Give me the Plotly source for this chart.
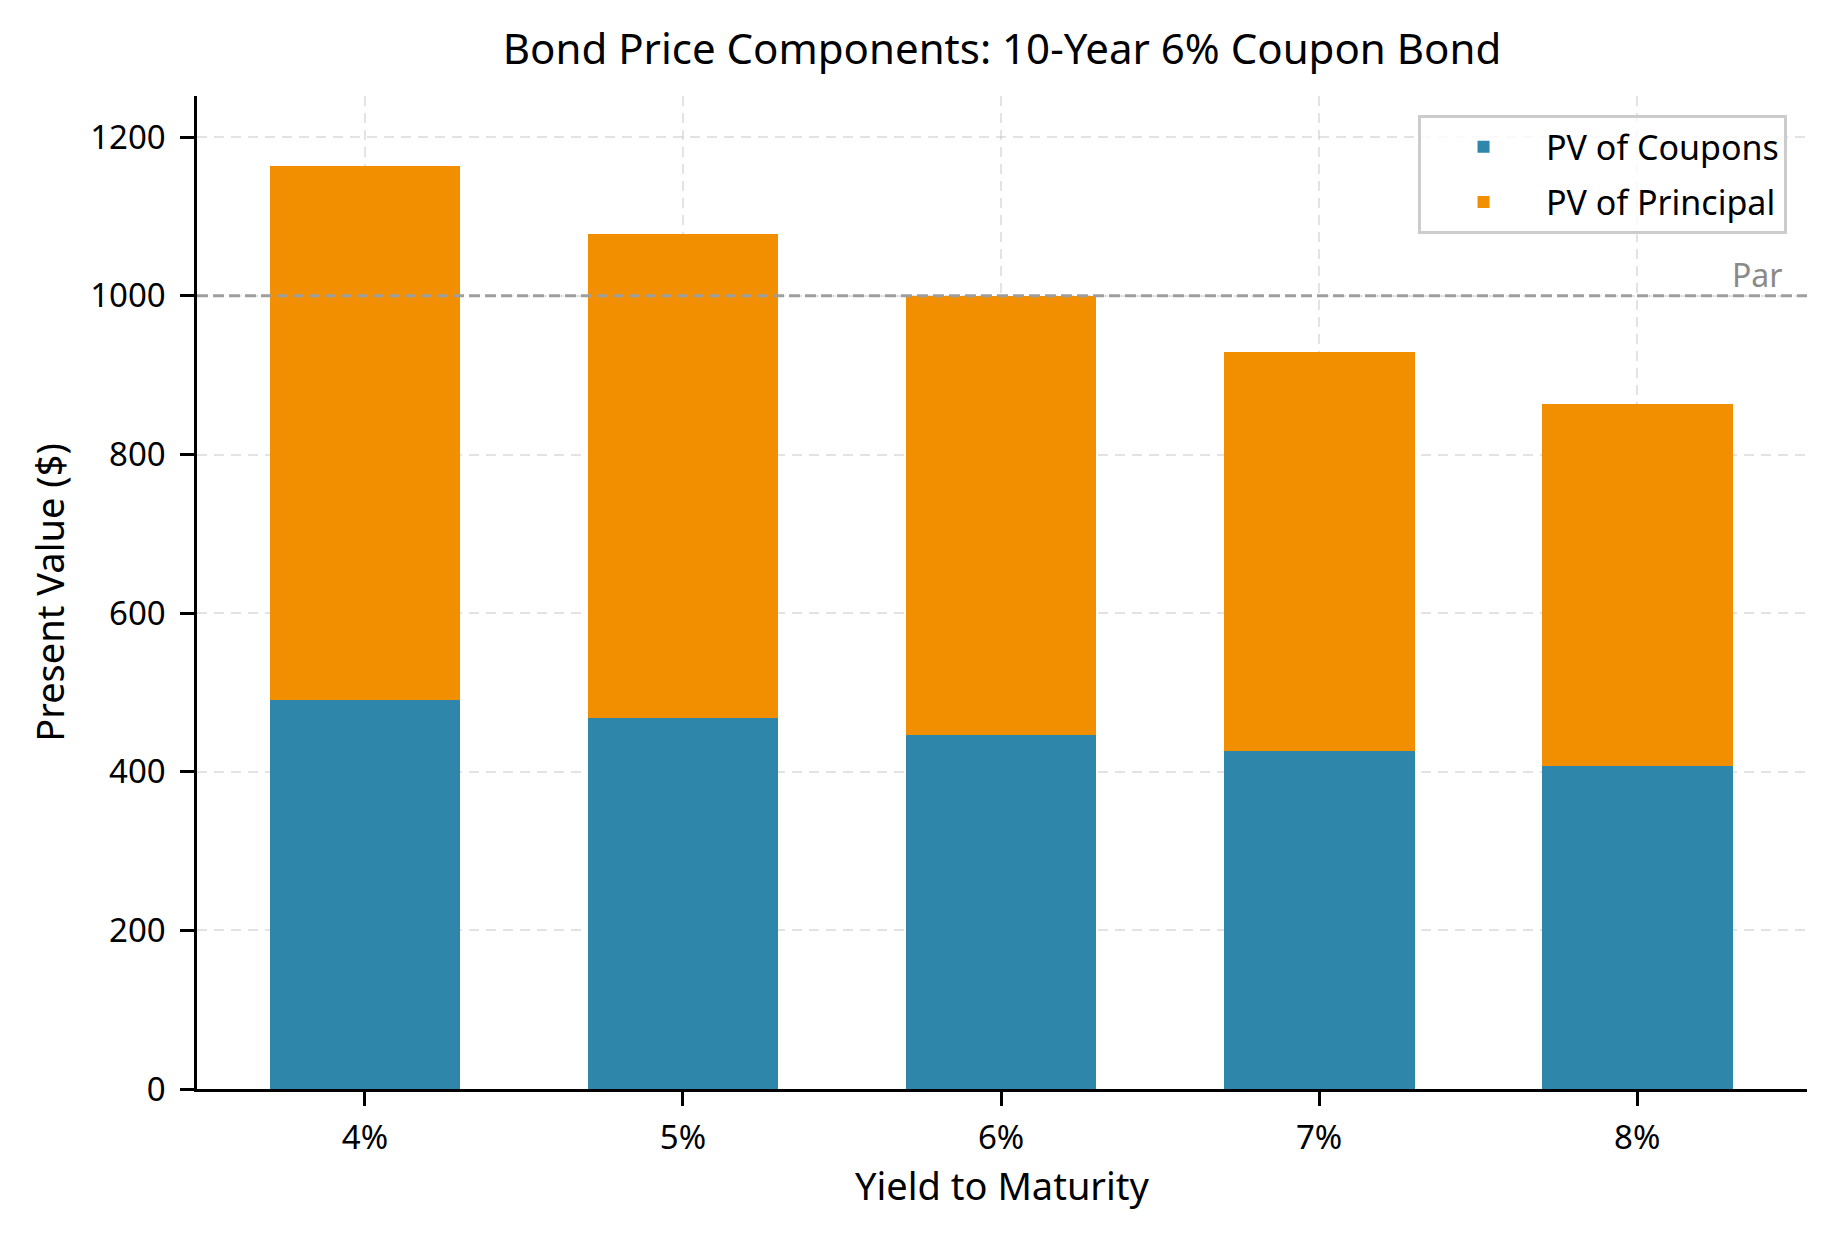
import plotly.graph_objects as go

# yield to maturity categories and the two stacked components ($)
yields = ["4%", "5%", "6%", "7%", "8%"]
pv_coupons = [490.5, 467.7, 446.3, 426.4, 407.7]
pv_principal = [673.0, 610.3, 553.7, 502.6, 456.4]
par_value = 1000

blue = "#2E86AB"
orange = "#F18F01"
grid = "rgba(176,176,176,0.35)"
font = "Noto Sans"

fig = go.Figure()
fig.add_trace(go.Bar(x=yields, y=pv_coupons, name="PV of Coupons",
                     marker=dict(color=blue, line=dict(width=0)),
                     legendgroup="c"))
fig.add_trace(go.Bar(x=yields, y=pv_principal, name="PV of Principal",
                     marker=dict(color=orange, line=dict(width=0)),
                     legendgroup="p"))

# par reference line
fig.add_hline(y=par_value, line=dict(color="#9e9e9e", width=3, dash="11px,5px"),
              layer="above")
fig.add_annotation(x=4.465, y=par_value, text="Par", showarrow=False,
                   xanchor="right", yanchor="bottom", yshift=-2,
                   font=dict(family=font, size=32, color="#8a8a8a"))

# page body has an 8px margin, so the figure is a bit smaller than the window
fig.update_layout(
    width=1826, height=1226,
    margin=dict(l=189, r=27, t=88, b=145),
    barmode="stack", bargap=0.4,
    plot_bgcolor="white", paper_bgcolor="white",
    font=dict(family=font, size=33, color="black"),
    title=dict(text="Bond Price Components: 10-Year 6% Coupon Bond",
               x=0.5, xref="paper", xanchor="center",
               y=1 - 41 / 1226, yref="container", yanchor="middle",
               font=dict(family=font, size=42, color="black")),
    legend=dict(x=0.9876, y=0.9806, xanchor="right", yanchor="top",
                bgcolor="rgba(255,255,255,0.8)", bordercolor="#cccccc",
                borderwidth=3, font=dict(family=font, size=34),
                itemwidth=115, tracegroupgap=8, traceorder="grouped"),
    showlegend=True,
)

fig.update_xaxes(
    title=dict(text="Yield to Maturity", font=dict(size=38), standoff=13),
    range=[-0.528, 4.534], showline=True, linecolor="black", linewidth=2.5,
    ticks="outside", ticklen=14, tickwidth=2.5, tickcolor="black",
    ticklabelstandoff=4,
    showgrid=True, gridcolor=grid, gridwidth=2, griddash="10px,7px",
    layer="above traces", zeroline=False,
)
fig.update_yaxes(
    title=dict(text="Present Value ($)", font=dict(size=38), standoff=14),
    range=[0, 1252], dtick=200, showline=True, linecolor="black", linewidth=2.5,
    ticks="outside", ticklen=14, tickwidth=2.5, tickcolor="black",
    ticklabelstandoff=8,
    showgrid=True, gridcolor=grid, gridwidth=2, griddash="10px,7px",
    layer="above traces", zeroline=False,
)

fig.write_html("out.html")
